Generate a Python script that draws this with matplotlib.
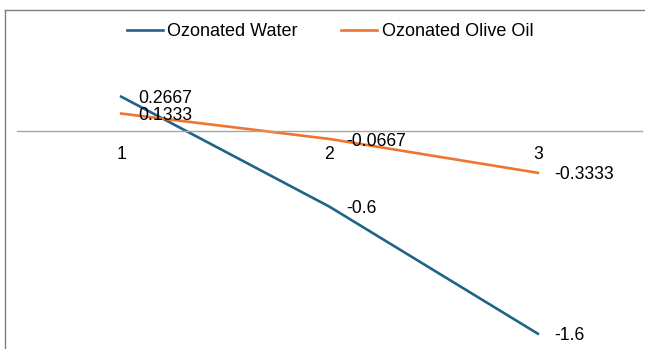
import matplotlib
matplotlib.use("Agg")
import matplotlib.pyplot as plt
from matplotlib.lines import Line2D

plt.rcParams['font.family'] = ['Liberation Sans', 'DejaVu Sans']

# data
categories = [1, 2, 3]
water = [0.2667, -0.6, -1.6]
olive_oil = [0.1333, -0.0667, -0.3333]
water_labels = ["0.2667", "-0.6", "-1.6"]
olive_labels = ["0.1333", "-0.0667", "-0.3333"]

blue = "#1f6487"
orange = "#ee7530"

W, H = 645, 349
fig = plt.figure(figsize=(W / 100, H / 100), dpi=100)

# plot area spans the lower part of the frame; zero line sits at y=130px
zero_px = 130.5
ppu = 127.0
ax = fig.add_axes([17 / W, 0, 625 / W, 1])
ax.set_xlim(0.5, 3.5)
ax.set_ylim(-(H - zero_px) / ppu, zero_px / ppu)

ax.plot(categories, water, color=blue, lw=1.9, label="Ozonated Water")
ax.plot(categories, olive_oil, color=orange, lw=1.9, label="Ozonated Olive Oil")

for x, y, s in zip(categories, water, water_labels):
    ax.annotate(s, (x, y), xytext=(12, -1.5), textcoords="offset points",
                va="center", ha="left", fontsize=12.7, color="#000000")
for x, y, s in zip(categories, olive_oil, olive_labels):
    ax.annotate(s, (x, y), xytext=(12, -1.5), textcoords="offset points",
                va="center", ha="left", fontsize=12.7, color="#000000")

for side in ["left", "right", "top"]:
    ax.spines[side].set_visible(False)
ax.spines["bottom"].set_position(("data", 0))
ax.spines["bottom"].set_color("#a6a6a6")
ax.spines["bottom"].set_linewidth(1.0)
ax.set_xticks(categories)
ax.set_xticklabels([str(c) for c in categories])
ax.tick_params(axis="x", length=0, pad=11, labelsize=12.7)
ax.set_yticks([])
ax.patch.set_alpha(0)

# chart frame (left and top edges visible)
fig.add_artist(Line2D([5 / W, 5 / W], [0, 1 - 10 / H], color="#7f7f7f", lw=1.0))
fig.add_artist(Line2D([5 / W, 1], [1 - 10 / H, 1 - 10 / H], color="#7f7f7f", lw=1.0))

fig.legend(loc="center", bbox_to_anchor=(330 / W, 1 - 32 / H), ncol=2,
           frameon=False, fontsize=13, handlelength=2.0, handletextpad=0.25,
           columnspacing=2.4)

fig.savefig("out.png", dpi=100)
